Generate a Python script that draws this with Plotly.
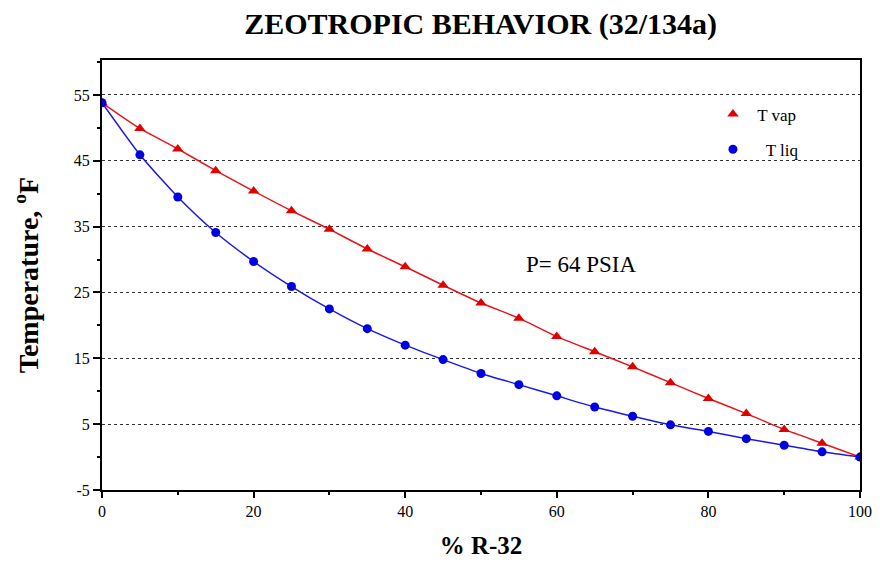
import plotly.graph_objects as go

pct_r32 = [0, 5, 10, 15, 20, 25, 30, 35, 40, 45, 50, 55, 60, 65, 70, 75, 80, 85, 90, 95, 100]
t_vap = [53.8, 49.9, 46.8, 43.5, 40.4, 37.4, 34.6, 31.6, 28.9, 26.1, 23.4, 21.1, 18.3, 16.0, 13.7, 11.3, 8.9, 6.6, 4.2, 2.1, 0.0]
t_liq = [53.8, 45.9, 39.5, 34.1, 29.7, 25.9, 22.5, 19.5, 17.0, 14.8, 12.7, 11.0, 9.3, 7.6, 6.2, 4.9, 3.9, 2.8, 1.8, 0.8, 0.0]
y_tick_vals = [-5, 5, 15, 25, 35, 45, 55]
y_tick_text = ["-5", "5", "15", "25", "35", "45", "55"]

FONT = "Liberation Serif, Times New Roman, serif"
RED_LINE, RED = "#e8141a", "#e00000"
BLUE_LINE, BLUE = "#1a1ae8", "#0000e0"

fig = go.Figure()
# smooth connecting lines (no legend entry)
fig.add_trace(go.Scatter(
    x=pct_r32, y=t_vap, mode="lines", showlegend=False, hoverinfo="skip",
    line=dict(color=RED_LINE, width=1.5, shape="spline", smoothing=0.6),
))
fig.add_trace(go.Scatter(
    x=pct_r32, y=t_liq, mode="lines", showlegend=False, hoverinfo="skip",
    line=dict(color=BLUE_LINE, width=1.5, shape="spline", smoothing=0.6),
))
# data markers (legend shows marker only)
fig.add_trace(go.Scatter(
    x=pct_r32, y=t_vap, name="&nbsp;T vap", mode="markers",
    marker=dict(symbol="triangle-up", size=10, color=RED),
    legendgroup="a",
))
fig.add_trace(go.Scatter(
    x=pct_r32, y=t_liq, name="&nbsp;&nbsp;&nbsp;T liq", mode="markers",
    marker=dict(symbol="circle", size=9, color=BLUE),
    legendgroup="b",
))

fig.add_annotation(x=63.2, y=29.3, text="P= 64 PSIA", showarrow=False,
                   font=dict(family=FONT, size=23, color="black"))

fig.update_layout(
    width=872, height=555,
    margin=dict(l=94, r=20, t=52, b=73),
    paper_bgcolor="white", plot_bgcolor="white",
    font=dict(family=FONT, color="black"),
    title=dict(text="<b>ZEOTROPIC BEHAVIOR (32/134a)</b>", x=0.542, xanchor="center",
               y=0.972, yanchor="middle", font=dict(family=FONT, size=30, color="black")),
    legend=dict(x=0.806, y=0.915, xanchor="left", yanchor="top",
                bgcolor="rgba(0,0,0,0)", font=dict(family=FONT, size=17, color="black"),
                traceorder="grouped", tracegroupgap=10, itemwidth=30),
    showlegend=True,
)

fig.update_xaxes(
    range=[0, 100], tick0=0, dtick=20, automargin=False,
    showline=True, linecolor="black", linewidth=2, mirror=True,
    ticks="outside", ticklen=6, tickwidth=1.5, tickcolor="black",
    minor=dict(tick0=10, dtick=20, ticks="outside", ticklen=3, tickwidth=1.5, tickcolor="black"),
    showgrid=False, zeroline=False,
    tickfont=dict(family=FONT, size=16, color="black"),
    title=dict(text="<b>% R-32</b>", font=dict(family=FONT, size=25, color="black"), standoff=17),
)
fig.update_yaxes(
    range=[-5, 60.3], tickmode="array", tickvals=y_tick_vals, ticktext=y_tick_text,
    automargin=False,
    showline=True, linecolor="black", linewidth=2, mirror=True,
    ticks="outside", ticklen=7, tickwidth=1.5, tickcolor="black",
    minor=dict(tick0=0, dtick=10, ticks="outside", ticklen=3, tickwidth=1.5, tickcolor="black"),
    showgrid=True, gridcolor="#333333", gridwidth=1, griddash="dot",
    zeroline=False,
    tickfont=dict(family=FONT, size=16, color="black"),
    title=dict(text="<b>Temperature, <sup>o</sup>F</b>", font=dict(family=FONT, size=28, color="black"), standoff=27),
)

fig.write_html("out.html")
